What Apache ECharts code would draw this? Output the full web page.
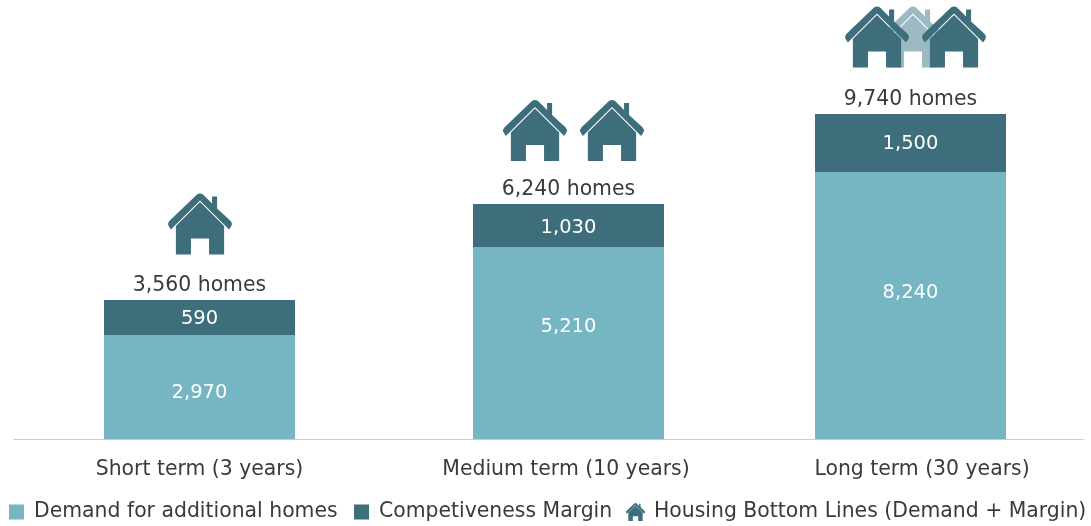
<!DOCTYPE html>
<html><head><meta charset="utf-8">
<style>html,body{margin:0;padding:0;background:#fff}#c{width:1091px;height:526px}</style>
<script src="https://cdn.jsdelivr.net/npm/echarts@6/dist/echarts.min.js"></script>
</head><body><div id="c"></div>
<script>
const categories = ['Short term (3 years)', 'Medium term (10 years)', 'Long term (30 years)'];
// Printed values
const demandPrinted = [2970, 5210, 8240];
const marginPrinted = [590, 1030, 1500];
const totalPrinted = [3560, 6240, 9740];
// Segment lengths as actually drawn in the reference, which is not to scale,
// expressed in homes on the scale of the tallest bar
const demandDrawn = [3117, 5754, 8002];
const marginDrawn = [1049, 1289, 1738];
const houseCounts = [1, 2, 3];

const names = ['Demand for additional homes', 'Competiveness Margin', 'Housing Bottom Lines (Demand + Margin)'];
const LIGHT = '#76b5c2', DARK = '#3e6d7c', PALE = '#9db9c1', TEXT = '#3a3a3a';
const FONT = '"DejaVu Sans", sans-serif';
const FS = 20.4, FS_BAR = 19.5;
const HOUSE = 'path://M0.5 32Q-0.5 29.5 1.5 27.5L29 1Q32 -1 35 1L44 10L44 3L49 3L49 15L62.5 27.5Q64.5 29.5 63.5 32L61 36L32 7L3 36ZM32 8.5L56 32.5L56 61L41 61L41 45L23 45L23 61L8 61L8 32.5Z';

const gridBox = [[14, 385], [385, 752], [738, 1083]];
const labelPad = [[0,0,0,0], [0,5,0,0], [0,0,0,23]];
const demandLabelDy = [6, -16, -13];
const marginLabelDy = [1, 2, 1];
const houseDy = [-76, -73.5, -77];
const houseDx = [[0.5], [-33.5, 43.5], [-33.5, 2.5, 43.5]];

const grid = [], xAxis = [], yAxis = [], series = [];
categories.forEach((cat, i) => {
  grid.push({left: gridBox[i][0], width: gridBox[i][1] - gridBox[i][0], top: 0, height: 439});
  xAxis.push({type: 'category', gridIndex: i, data: [cat],
    axisTick: {show: false},
    axisLine: {lineStyle: {color: '#c6d0d4', width: 1}},
    axisLabel: {color: TEXT, fontFamily: FONT, fontSize: FS, margin: 21, padding: labelPad[i], interval: 0}});
  yAxis.push({type: 'value', gridIndex: i, min: 0, max: 13156, show: false});
  series.push({name: names[0], type: 'bar', stack: 's' + i, xAxisIndex: i, yAxisIndex: i, barWidth: 191, z: 2,
    itemStyle: {color: LIGHT},
    data: [demandDrawn[i]],
    label: {show: true, position: 'inside', color: '#fff', fontFamily: FONT, fontSize: FS_BAR,
      offset: [0, demandLabelDy[i]], formatter: () => demandPrinted[i].toLocaleString('en-US')}});
  series.push({name: names[1], type: 'bar', stack: 's' + i, xAxisIndex: i, yAxisIndex: i, barWidth: 191, z: 2,
    itemStyle: {color: DARK},
    data: [marginDrawn[i]],
    label: {show: true, position: 'inside', color: '#fff', fontFamily: FONT, fontSize: FS_BAR,
      offset: [0, marginLabelDy[i]], formatter: () => marginPrinted[i].toLocaleString('en-US')}});
  const top = demandDrawn[i] + marginDrawn[i];
  series.push({type: 'scatter', xAxisIndex: i, yAxisIndex: i, symbolSize: 1, z: 3,
    itemStyle: {color: 'transparent', opacity: 1},
    data: [[0, top]],
    label: {show: true, position: 'top', distance: 4, color: TEXT, fontFamily: FONT, fontSize: FS,
      formatter: () => totalPrinted[i].toLocaleString('en-US') + ' homes'}});
  for (let h = 0; h < houseCounts[i]; h++) {
    const behind = houseCounts[i] === 3 && h === 1;
    series.push({name: names[2], type: 'scatter', xAxisIndex: i, yAxisIndex: i,
      symbol: HOUSE, symbolSize: [64, 61], symbolKeepAspect: false,
      symbolOffset: [houseDx[i][h], houseDy[i]], z: behind ? 4 : 5,
      itemStyle: {color: behind ? PALE : DARK, opacity: 1},
      data: [[0, top]]});
  }
});

const legendStyle = {color: TEXT, fontFamily: FONT, fontSize: FS, padding: [4, 0, 0, 5]};
const legendBase = {top: 502, padding: 0, selectedMode: false, textStyle: legendStyle};
const legend = [
  {...legendBase, left: 9, itemWidth: 15, itemHeight: 15, data: [names[0]], itemStyle: {color: LIGHT}, icon: 'rect'},
  {...legendBase, left: 354, itemWidth: 15, itemHeight: 15, data: [names[1]], itemStyle: {color: DARK}, icon: 'rect'},
  {...legendBase, left: 626, top: 502, itemWidth: 19, itemHeight: 20, data: [names[2]], textStyle: {...legendStyle, padding: [0, 0, 0, 4]}, itemStyle: {color: DARK}, icon: HOUSE}
];

const chart = echarts.init(document.getElementById('c'), null, {renderer: 'canvas'});
chart.setOption({animation: false, backgroundColor: '#fff', tooltip: {show: false}, grid, xAxis, yAxis, legend, series});
</script></body></html>
